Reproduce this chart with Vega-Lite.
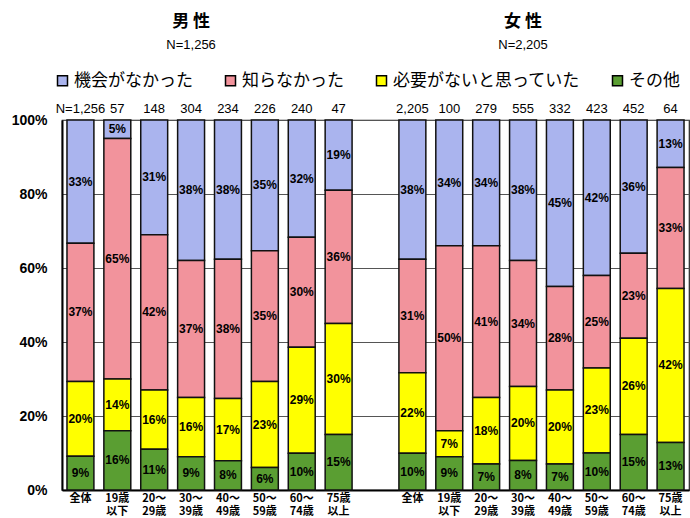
{
  "$schema": "https://vega.github.io/schema/vega-lite/v6.json",
  "width": 627,
  "height": 370,
  "autosize": "none",
  "padding": {"left": 62, "top": 120, "right": 1, "bottom": 28},
  "background": "white",
  "config": {
    "font": "Liberation Sans",
    "view": {"stroke": "#222", "strokeWidth": 1.2}
  },
  "datasets": {
    "shares": [
      {"bar": "男性|全体", "reason": "機会がなかった", "code": 1, "share": 0.33},
      {"bar": "男性|全体", "reason": "知らなかった", "code": 2, "share": 0.37},
      {"bar": "男性|全体", "reason": "必要がないと思っていた", "code": 3, "share": 0.20},
      {"bar": "男性|全体", "reason": "その他", "code": 4, "share": 0.09},
      {"bar": "男性|19歳/以下", "reason": "機会がなかった", "code": 1, "share": 0.05},
      {"bar": "男性|19歳/以下", "reason": "知らなかった", "code": 2, "share": 0.65},
      {"bar": "男性|19歳/以下", "reason": "必要がないと思っていた", "code": 3, "share": 0.14},
      {"bar": "男性|19歳/以下", "reason": "その他", "code": 4, "share": 0.16},
      {"bar": "男性|20～/29歳", "reason": "機会がなかった", "code": 1, "share": 0.31},
      {"bar": "男性|20～/29歳", "reason": "知らなかった", "code": 2, "share": 0.42},
      {"bar": "男性|20～/29歳", "reason": "必要がないと思っていた", "code": 3, "share": 0.16},
      {"bar": "男性|20～/29歳", "reason": "その他", "code": 4, "share": 0.11},
      {"bar": "男性|30～/39歳", "reason": "機会がなかった", "code": 1, "share": 0.38},
      {"bar": "男性|30～/39歳", "reason": "知らなかった", "code": 2, "share": 0.37},
      {"bar": "男性|30～/39歳", "reason": "必要がないと思っていた", "code": 3, "share": 0.16},
      {"bar": "男性|30～/39歳", "reason": "その他", "code": 4, "share": 0.09},
      {"bar": "男性|40～/49歳", "reason": "機会がなかった", "code": 1, "share": 0.38},
      {"bar": "男性|40～/49歳", "reason": "知らなかった", "code": 2, "share": 0.38},
      {"bar": "男性|40～/49歳", "reason": "必要がないと思っていた", "code": 3, "share": 0.17},
      {"bar": "男性|40～/49歳", "reason": "その他", "code": 4, "share": 0.08},
      {"bar": "男性|50～/59歳", "reason": "機会がなかった", "code": 1, "share": 0.35},
      {"bar": "男性|50～/59歳", "reason": "知らなかった", "code": 2, "share": 0.35},
      {"bar": "男性|50～/59歳", "reason": "必要がないと思っていた", "code": 3, "share": 0.23},
      {"bar": "男性|50～/59歳", "reason": "その他", "code": 4, "share": 0.06},
      {"bar": "男性|60～/74歳", "reason": "機会がなかった", "code": 1, "share": 0.32},
      {"bar": "男性|60～/74歳", "reason": "知らなかった", "code": 2, "share": 0.30},
      {"bar": "男性|60～/74歳", "reason": "必要がないと思っていた", "code": 3, "share": 0.29},
      {"bar": "男性|60～/74歳", "reason": "その他", "code": 4, "share": 0.10},
      {"bar": "男性|75歳/以上", "reason": "機会がなかった", "code": 1, "share": 0.19},
      {"bar": "男性|75歳/以上", "reason": "知らなかった", "code": 2, "share": 0.36},
      {"bar": "男性|75歳/以上", "reason": "必要がないと思っていた", "code": 3, "share": 0.30},
      {"bar": "男性|75歳/以上", "reason": "その他", "code": 4, "share": 0.15},
      {"bar": "女性|全体", "reason": "機会がなかった", "code": 1, "share": 0.38},
      {"bar": "女性|全体", "reason": "知らなかった", "code": 2, "share": 0.31},
      {"bar": "女性|全体", "reason": "必要がないと思っていた", "code": 3, "share": 0.22},
      {"bar": "女性|全体", "reason": "その他", "code": 4, "share": 0.10},
      {"bar": "女性|19歳/以下", "reason": "機会がなかった", "code": 1, "share": 0.34},
      {"bar": "女性|19歳/以下", "reason": "知らなかった", "code": 2, "share": 0.50},
      {"bar": "女性|19歳/以下", "reason": "必要がないと思っていた", "code": 3, "share": 0.07},
      {"bar": "女性|19歳/以下", "reason": "その他", "code": 4, "share": 0.09},
      {"bar": "女性|20～/29歳", "reason": "機会がなかった", "code": 1, "share": 0.34},
      {"bar": "女性|20～/29歳", "reason": "知らなかった", "code": 2, "share": 0.41},
      {"bar": "女性|20～/29歳", "reason": "必要がないと思っていた", "code": 3, "share": 0.18},
      {"bar": "女性|20～/29歳", "reason": "その他", "code": 4, "share": 0.07},
      {"bar": "女性|30～/39歳", "reason": "機会がなかった", "code": 1, "share": 0.38},
      {"bar": "女性|30～/39歳", "reason": "知らなかった", "code": 2, "share": 0.34},
      {"bar": "女性|30～/39歳", "reason": "必要がないと思っていた", "code": 3, "share": 0.20},
      {"bar": "女性|30～/39歳", "reason": "その他", "code": 4, "share": 0.08},
      {"bar": "女性|40～/49歳", "reason": "機会がなかった", "code": 1, "share": 0.45},
      {"bar": "女性|40～/49歳", "reason": "知らなかった", "code": 2, "share": 0.28},
      {"bar": "女性|40～/49歳", "reason": "必要がないと思っていた", "code": 3, "share": 0.20},
      {"bar": "女性|40～/49歳", "reason": "その他", "code": 4, "share": 0.07},
      {"bar": "女性|50～/59歳", "reason": "機会がなかった", "code": 1, "share": 0.42},
      {"bar": "女性|50～/59歳", "reason": "知らなかった", "code": 2, "share": 0.25},
      {"bar": "女性|50～/59歳", "reason": "必要がないと思っていた", "code": 3, "share": 0.23},
      {"bar": "女性|50～/59歳", "reason": "その他", "code": 4, "share": 0.10},
      {"bar": "女性|60～/74歳", "reason": "機会がなかった", "code": 1, "share": 0.36},
      {"bar": "女性|60～/74歳", "reason": "知らなかった", "code": 2, "share": 0.23},
      {"bar": "女性|60～/74歳", "reason": "必要がないと思っていた", "code": 3, "share": 0.26},
      {"bar": "女性|60～/74歳", "reason": "その他", "code": 4, "share": 0.15},
      {"bar": "女性|75歳/以上", "reason": "機会がなかった", "code": 1, "share": 0.13},
      {"bar": "女性|75歳/以上", "reason": "知らなかった", "code": 2, "share": 0.33},
      {"bar": "女性|75歳/以上", "reason": "必要がないと思っていた", "code": 3, "share": 0.42},
      {"bar": "女性|75歳/以上", "reason": "その他", "code": 4, "share": 0.13}
    ],
    "counts": [
      {"bar": "男性|全体", "n": "N=1,256"},
      {"bar": "男性|19歳/以下", "n": "57"},
      {"bar": "男性|20～/29歳", "n": "148"},
      {"bar": "男性|30～/39歳", "n": "304"},
      {"bar": "男性|40～/49歳", "n": "234"},
      {"bar": "男性|50～/59歳", "n": "226"},
      {"bar": "男性|60～/74歳", "n": "240"},
      {"bar": "男性|75歳/以上", "n": "47"},
      {"bar": "女性|全体", "n": "2,205"},
      {"bar": "女性|19歳/以下", "n": "100"},
      {"bar": "女性|20～/29歳", "n": "279"},
      {"bar": "女性|30～/39歳", "n": "555"},
      {"bar": "女性|40～/49歳", "n": "332"},
      {"bar": "女性|50～/59歳", "n": "423"},
      {"bar": "女性|60～/74歳", "n": "452"},
      {"bar": "女性|75歳/以上", "n": "64"}
    ],
    "headers": [
      {"bar": "男性|30～/39歳", "title": "男 性", "total": "N=1,256"},
      {"bar": "女性|30～/39歳", "title": "女 性", "total": "N=2,205"}
    ]
  },
  "encoding": {
    "x": {
      "field": "bar",
      "type": "nominal",
      "sort": null,
      "title": null,
      "scale": {
        "domain": [
          "男性|全体", "男性|19歳/以下", "男性|20～/29歳", "男性|30～/39歳",
          "男性|40～/49歳", "男性|50～/59歳", "男性|60～/74歳", "男性|75歳/以上",
          "|",
          "女性|全体", "女性|19歳/以下", "女性|20～/29歳", "女性|30～/39歳",
          "女性|40～/49歳", "女性|50～/59歳", "女性|60～/74歳", "女性|75歳/以上"
        ],
        "paddingInner": 0.27,
        "paddingOuter": 0.135
      },
      "axis": {
        "labelExpr": "split(split(datum.value, '|')[1], '/')",
        "labelAngle": 0,
        "labelFont": "Noto Sans CJK JP",
        "labelFontSize": 11,
        "labelFontWeight": "bold",
        "labelColor": "#000",
        "labelLineHeight": 13,
        "labelBaseline": "top",
        "labelPadding": 2,
        "ticks": false,
        "domainColor": "#000",
        "domainWidth": 2,
        "grid": false
      }
    }
  },
  "layer": [
    {
      "data": {"name": "shares"},
      "mark": {"type": "bar", "stroke": "#111", "strokeWidth": 1.5},
      "encoding": {
        "y": {
          "field": "share",
          "type": "quantitative",
          "stack": "normalize",
          "title": null,
          "axis": {
            "values": [0, 0.2, 0.4, 0.6, 0.8, 1],
            "format": ".0%",
            "labelFont": "Liberation Sans",
            "labelFontSize": 14,
            "labelFontWeight": "bold",
            "labelColor": "#000",
            "labelPadding": 15,
            "ticks": false,
            "domainColor": "#000",
            "domainWidth": 2,
            "gridColor": "#555",
            "gridWidth": 1
          }
        },
        "color": {
          "field": "reason",
          "type": "nominal",
          "scale": {
            "domain": ["機会がなかった", "知らなかった", "必要がないと思っていた", "その他"],
            "range": ["#aab4ee", "#f2939c", "#ffff00", "#5a9e32"]
          },
          "legend": {
            "title": null,
            "orient": "none",
            "direction": "horizontal",
            "legendX": -8,
            "legendY": -48,
            "symbolType": "square",
            "symbolSize": 100,
            "symbolStrokeColor": "#000",
            "symbolStrokeWidth": 1.5,
            "symbolOpacity": 1,
            "labelFont": "Noto Sans CJK JP",
            "labelFontSize": 17,
            "labelColor": "#000",
            "labelOffset": 3,
            "labelLimit": 300,
            "columnPadding": 29
          }
        },
        "order": {"field": "code", "type": "quantitative", "sort": "descending"}
      }
    },
    {
      "data": {"name": "shares"},
      "mark": {"type": "text", "font": "Liberation Sans", "fontSize": 12, "fontWeight": "bold", "color": "#000", "baseline": "middle"},
      "encoding": {
        "y": {"field": "share", "type": "quantitative", "stack": "normalize", "bandPosition": 0.5, "title": null},
        "text": {"field": "share", "type": "quantitative", "format": ".0%"},
        "detail": {"field": "reason", "type": "nominal"},
        "order": {"field": "code", "type": "quantitative", "sort": "descending"}
      }
    },
    {
      "data": {"name": "counts"},
      "mark": {"type": "text", "font": "Liberation Sans", "fontSize": 13, "color": "#000", "baseline": "alphabetic", "dy": -7},
      "encoding": {
        "y": {"datum": 1, "type": "quantitative", "title": null},
        "text": {"field": "n", "type": "nominal"}
      }
    },
    {
      "data": {"name": "headers"},
      "mark": {"type": "text", "font": "Noto Sans CJK JP", "fontSize": 17, "fontWeight": "bold", "color": "#000", "baseline": "middle", "dy": -98},
      "encoding": {
        "y": {"datum": 1, "type": "quantitative", "title": null},
        "text": {"field": "title", "type": "nominal"}
      }
    },
    {
      "data": {"name": "headers"},
      "mark": {"type": "text", "font": "Liberation Sans", "fontSize": 13, "color": "#000", "baseline": "middle", "dy": -75},
      "encoding": {
        "y": {"datum": 1, "type": "quantitative", "title": null},
        "text": {"field": "total", "type": "nominal"}
      }
    }
  ]
}
